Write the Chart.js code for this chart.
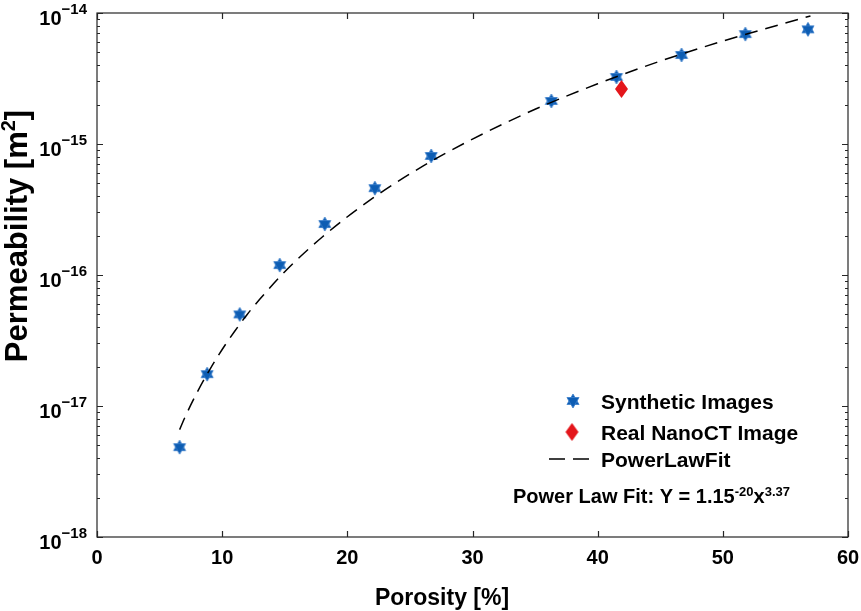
<!DOCTYPE html>
<html>
<head>
<meta charset="utf-8">
<script src="https://cdn.jsdelivr.net/npm/chart.js@4/dist/chart.umd.min.js"></script>
<style>
  html, body { margin: 0; padding: 0; background: #fff; }
  #wrap { width: 861px; height: 611px; }
</style>
</head>
<body>
<div id="wrap"><canvas id="chart" width="861" height="611"></canvas></div>
<script>
// values
const porosity = [6.6, 8.8, 11.4, 14.6, 18.2, 22.2, 26.7, 36.3, 41.5, 46.7, 51.8, 56.8];
const permeability = [4.85e-18, 1.75e-17, 5.0e-17, 1.19e-16, 2.45e-16, 4.6e-16, 8.1e-16, 2.13e-15, 3.25e-15, 4.78e-15, 6.9e-15, 7.5e-15];
const nanoPorosity = [41.9];
const nanoPermeability = [2.63e-15];
const fitPorosity = [6.6, 7, 8, 9, 10, 11, 12, 13, 15, 18, 22, 26, 30, 35, 40, 45, 50, 57];
const fitPermeability = [6.6e-18, 8.1e-18, 1.27e-17, 1.89e-17, 2.7e-17, 3.72e-17, 5.0e-17, 6.52e-17, 1.06e-16, 1.95e-16, 3.84e-16, 6.75e-16, 1.09e-15, 1.84e-15, 2.88e-15, 4.29e-15, 6.1e-15, 9.5e-15];
const xTicks = [0, 10, 20, 30, 40, 50, 60];
const yExponents = [-18, -17, -16, -15, -14];

const FONT = '"Liberation Sans", Arial, Helvetica, sans-serif';
const BLUE = '#0d5db3';
const RED = '#e4161b';
const AXIS = '#262626';

// six-pointed star marker
function hexagram(r, color) {
    const c = document.createElement('canvas');
    const s = Math.ceil(r * 2 + 4);
    c.width = s; c.height = s;
    const g = c.getContext('2d');
    const cx = s / 2, cy = s / 2;
    g.fillStyle = color;
    g.strokeStyle = '#3b7fcc';
    g.lineWidth = 0.8;
    for (const off of [-Math.PI / 2, Math.PI / 2]) {
        g.beginPath();
        for (let i = 0; i < 3; i++) {
            const a = off + i * 2 * Math.PI / 3;
            const px = cx + r * Math.cos(a), py = cy + r * Math.sin(a);
            i ? g.lineTo(px, py) : g.moveTo(px, py);
        }
        g.closePath();
        g.fill();
        g.stroke();
    }
    return c;
}

function diamond(w, h, color) {
    const c = document.createElement('canvas');
    c.width = w + 2; c.height = h + 2;
    const g = c.getContext('2d');
    g.fillStyle = color;
    g.beginPath();
    g.moveTo(c.width / 2, 1);
    g.lineTo(c.width - 1, c.height / 2);
    g.lineTo(c.width / 2, c.height - 1);
    g.lineTo(1, c.height / 2);
    g.closePath();
    g.fill();
    return c;
}

const starImg = hexagram(7, BLUE);
const diamondImg = diamond(13, 18, RED);

// text with superscripts: parts = [[text, size, raise]]
function richWidth(ctx, parts) {
    let w = 0;
    for (const [t, size] of parts) {
        ctx.font = `bold ${size}px ${FONT}`;
        w += ctx.measureText(t).width;
    }
    return w;
}
function drawRich(ctx, parts, x, y) {
    let cx = x;
    for (const [t, size, raise] of parts) {
        ctx.font = `bold ${size}px ${FONT}`;
        ctx.fillText(t, cx, y - (raise || 0));
        cx += ctx.measureText(t).width;
    }
}

const decorations = {
    id: 'decorations',
    afterDraw(chart) {
        const { ctx, chartArea: a, scales: { x, y } } = chart;
        ctx.save();
        ctx.strokeStyle = AXIS;
        ctx.lineWidth = 1.2;
        ctx.strokeRect(a.left, a.top, a.right - a.left, a.bottom - a.top);

        ctx.beginPath();
        for (const v of xTicks) {
            const px = Math.round(x.getPixelForValue(v)) + 0.5;
            ctx.moveTo(px, a.bottom); ctx.lineTo(px, a.bottom - 6);
            ctx.moveTo(px, a.top); ctx.lineTo(px, a.top + 6);
        }
        for (const e of yExponents) {
            const py = Math.round(y.getPixelForValue(Math.pow(10, e))) + 0.5;
            ctx.moveTo(a.left, py); ctx.lineTo(a.left + 6, py);
            ctx.moveTo(a.right, py); ctx.lineTo(a.right - 6, py);
            if (e === yExponents[yExponents.length - 1]) continue;
            for (let m = 2; m <= 9; m++) {
                const pm = Math.round(y.getPixelForValue(m * Math.pow(10, e))) + 0.5;
                ctx.moveTo(a.left, pm); ctx.lineTo(a.left + 3, pm);
                ctx.moveTo(a.right, pm); ctx.lineTo(a.right - 3, pm);
            }
        }
        ctx.stroke();

        ctx.fillStyle = '#000';
        ctx.textBaseline = 'alphabetic';

        // x tick labels
        ctx.font = `bold 20px ${FONT}`;
        ctx.textAlign = 'center';
        for (const v of xTicks) {
            ctx.fillText(String(v), x.getPixelForValue(v), 564);
        }

        // y tick labels 10^e
        ctx.textAlign = 'left';
        for (const e of yExponents) {
            const py = y.getPixelForValue(Math.pow(10, e));
            const parts = [['10', 20, 0], ['\u2212' + String(-e), 15, 11]];
            const w = richWidth(ctx, parts);
            drawRich(ctx, parts, 87 - w, py + 12);
        }

        // axis titles
        ctx.font = `bold 23px ${FONT}`;
        ctx.textAlign = 'center';
        ctx.fillText('Porosity [%]', 442, 605);

        ctx.save();
        ctx.translate(27, 236);
        ctx.rotate(-Math.PI / 2);
        ctx.textAlign = 'left';
        const yt = [['Permeability [m', 31, 0], ['2', 20, 12], [']', 31, 0]];
        drawRich(ctx, yt, -richWidth(ctx, yt) / 2, 0);
        ctx.restore();

        // legend
        ctx.textAlign = 'left';
        ctx.drawImage(starImg, 573 - starImg.width / 2, 401 - starImg.height / 2);
        ctx.drawImage(diamondImg, 572 - diamondImg.width / 2, 432 - diamondImg.height / 2);
        ctx.strokeStyle = '#000';
        ctx.lineWidth = 1.5;
        ctx.beginPath();
        ctx.moveTo(549, 459); ctx.lineTo(565, 459);
        ctx.moveTo(573, 459); ctx.lineTo(589, 459);
        ctx.stroke();
        ctx.font = `bold 21px ${FONT}`;
        ctx.fillText('Synthetic Images', 601, 409);
        ctx.fillText('Real NanoCT Image', 601, 440);
        ctx.fillText('PowerLawFit', 601, 467);

        drawRich(ctx, [['Power Law Fit: Y = 1.15', 20, 0], ['-20', 13, 7], ['x', 20, 0], ['3.37', 13, 7]], 513, 503);
        ctx.restore();
    }
};

new Chart(document.getElementById('chart'), {
    type: 'scatter',
    data: {
        datasets: [
            {
                label: 'PowerLawFit',
                type: 'line',
                data: fitPorosity.map((v, i) => ({ x: v, y: fitPermeability[i] })),
                borderColor: '#000',
                borderWidth: 1.5,
                borderDash: [13, 8],
                pointRadius: 0,
                fill: false,
                cubicInterpolationMode: 'monotone',
            },
            {
                label: 'Real NanoCT Image',
                data: nanoPorosity.map((v, i) => ({ x: v, y: nanoPermeability[i] })),
                pointStyle: diamondImg,
            },
            {
                label: 'Synthetic Images',
                data: porosity.map((v, i) => ({ x: v, y: permeability[i] })),
                pointStyle: starImg,
            },
        ],
    },
    options: {
        responsive: false,
        animation: false,
        devicePixelRatio: 1,
        layout: { padding: { top: 13, right: 13, left: 0, bottom: 0 } },
        plugins: { legend: { display: false }, tooltip: { enabled: false } },
        scales: {
            x: {
                type: 'linear',
                min: 0,
                max: 60,
                grid: { display: false },
                border: { display: false },
                ticks: { display: false },
                afterFit: (s) => { s.height = 74; },
            },
            y: {
                type: 'logarithmic',
                min: 1e-18,
                max: 1e-14,
                grid: { display: false },
                border: { display: false },
                ticks: { display: false },
                afterFit: (s) => { s.width = 97; },
            },
        },
    },
    plugins: [decorations],
});
</script>
</body>
</html>
